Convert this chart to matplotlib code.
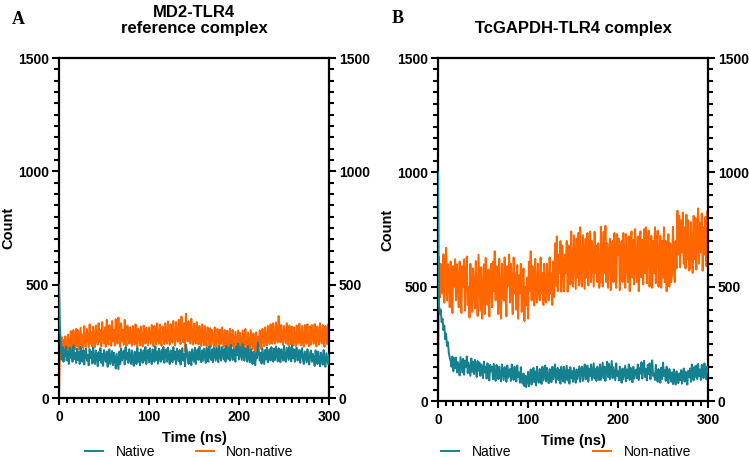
import numpy as np
import matplotlib
matplotlib.use("Agg")
import matplotlib.pyplot as plt
from matplotlib.ticker import MultipleLocator

plt.rcParams['font.family'] = ['Liberation Sans', 'DejaVu Sans']

# counts, one value per ns (0..300)
# panel A: MD2-TLR4 reference complex
a_native = [
    500, 320, 235, 170, 225, 160, 215, 185, 228, 165, 205, 150, 222, 178, 210, 160, 230, 172, 200, 155,
    218, 168, 205, 150, 226, 182, 160, 212, 148, 198, 220, 165, 190, 145, 215, 175, 205, 152, 224, 170,
    150, 210, 185, 140, 202, 168, 220, 155, 195, 142, 212, 175, 160, 205, 138, 198, 215, 150, 186, 208,
    145, 200, 172, 130, 195, 160, 128, 205, 150, 218, 165, 190, 210, 148, 225, 170, 200, 155, 215, 180,
    150, 210, 168, 142, 205, 185, 150, 222, 160, 200, 145, 215, 178, 155, 210, 165, 225, 150, 198, 212,
    158, 220, 175, 150, 215, 190, 160, 228, 168, 205, 152, 218, 182, 160, 212, 170, 225, 155, 200, 215,
    160, 222, 180, 150, 210, 195, 158, 225, 170, 205, 150, 218, 185, 162, 212, 148, 200, 220, 165, 195,
    140, 235, 212, 170, 150, 205, 185, 145, 215, 175, 160, 222, 150, 198, 215, 168, 226, 180, 158, 210,
    165, 218, 190, 155, 222, 175, 160, 230, 185, 168, 215, 158, 225, 195, 165, 220, 178, 158, 228, 190,
    165, 225, 200, 170, 218, 160, 230, 188, 172, 222, 165, 235, 195, 168, 215, 178, 160, 228, 190, 240,
    170, 225, 195, 168, 238, 182, 165, 220, 200, 160, 230, 178, 158, 215, 190, 150, 205, 170, 145, 200,
    175, 245, 210, 165, 200, 152, 218, 185, 150, 212, 170, 222, 158, 195, 215, 165, 225, 180, 160, 218,
    168, 228, 190, 162, 220, 175, 158, 215, 185, 165, 230, 172, 160, 222, 195, 168, 226, 180, 162, 232,
    175, 215, 160, 200, 222, 165, 185, 212, 155, 198, 220, 168, 150, 205, 182, 158, 215, 172, 148, 200,
    210, 160, 195, 175, 142, 210, 185, 150, 205, 165, 140, 200, 180, 148, 212, 160, 138, 198, 175, 150,
    190]
a_nonnative = [
    0, 250, 170, 268, 180, 255, 165, 272, 200, 175, 280, 215, 190, 295, 230, 205, 300, 240, 215, 305,
    228, 300, 215, 262, 310, 232, 280, 220, 318, 250, 228, 305, 265, 222, 325, 240, 290, 228, 315, 255,
    225, 320, 262, 236, 330, 248, 300, 228, 335, 270, 240, 312, 226, 345, 258, 236, 322, 280, 230, 340,
    250, 300, 232, 348, 262, 240, 355, 280, 225, 330, 250, 300, 235, 345, 262, 230, 320, 276, 240, 312,
    256, 230, 318, 270, 236, 325, 252, 226, 306, 282, 232, 316, 255, 228, 320, 290, 240, 310, 262, 234,
    312, 276, 240, 322, 256, 228, 318, 270, 236, 330, 262, 240, 325, 248, 230, 315, 285, 238, 330, 256,
    240, 338, 268, 236, 325, 280, 245, 340, 258, 232, 335, 270, 248, 345, 262, 238, 360, 280, 246, 330,
    205, 372, 300, 250, 338, 262, 240, 350, 280, 236, 328, 258, 240, 335, 270, 236, 318, 262, 230, 325,
    268, 232, 318, 250, 228, 312, 282, 236, 308, 226, 300, 262, 232, 312, 246, 222, 305, 270, 228, 302,
    240, 312, 256, 225, 300, 268, 222, 298, 250, 215, 306, 262, 228, 300, 240, 212, 292, 256, 220, 298,
    215, 288, 240, 210, 298, 260, 222, 305, 248, 212, 290, 236, 208, 300, 255, 215, 285, 238, 205, 290,
    200, 270, 228, 298, 250, 215, 305, 262, 228, 312, 248, 232, 318, 266, 238, 325, 272, 240, 330, 262,
    240, 334, 272, 245, 362, 290, 246, 322, 262, 234, 318, 280, 240, 330, 256, 232, 320, 270, 236, 315,
    232, 312, 256, 228, 320, 270, 240, 328, 262, 232, 318, 250, 226, 322, 278, 240, 326, 256, 228, 316,
    236, 322, 278, 240, 326, 256, 228, 316, 270, 236, 330, 262, 240, 322, 250, 226, 318, 272, 238, 325,
    282]

# panel B: TcGAPDH-TLR4 complex
b_native = [
    1000, 420, 380, 400, 345, 360, 310, 330, 270, 295, 240, 258, 210, 190, 175, 150, 195, 130, 188, 145,
    190, 125, 170, 148, 112, 192, 160, 125, 185, 115, 175, 150, 195, 122, 168, 140, 110, 186, 128, 172,
    118, 180, 145, 105, 175, 132, 168, 110, 160, 140, 100, 172, 125, 150, 98, 165, 120, 90, 158, 130,
    150, 95, 162, 120, 88, 158, 130, 96, 150, 110, 85, 160, 125, 92, 148, 118, 84, 155, 102, 135,
    140, 88, 160, 115, 92, 150, 130, 85, 155, 105, 125, 80, 148, 100, 76, 120, 65, 110, 60, 95,
    128, 64, 110, 138, 72, 120, 145, 82, 130, 68, 150, 98, 80, 140, 110, 75, 150, 90, 120, 155,
    86, 145, 100, 78, 140, 120, 82, 150, 96, 125, 160, 80, 118, 145, 92, 136, 76, 150, 110, 86,
    150, 80, 118, 154, 90, 136, 76, 148, 100, 130, 84, 145, 110, 80, 138, 96, 125, 152, 84, 140,
    150, 88, 130, 160, 95, 118, 155, 84, 140, 110, 160, 92, 128, 165, 98, 140, 88, 150, 118, 92,
    160, 92, 128, 168, 100, 150, 88, 140, 172, 105, 162, 95, 135, 175, 100, 148, 120, 90, 165, 110,
    130, 90, 150, 112, 80, 142, 96, 124, 155, 86, 138, 100, 160, 92, 145, 120, 82, 150, 98, 130,
    138, 100, 160, 92, 145, 120, 170, 98, 150, 176, 105, 140, 90, 158, 118, 165, 95, 145, 178, 110,
    120, 92, 158, 106, 84, 140, 118, 80, 146, 96, 168, 110, 135, 88, 150, 100, 78, 140, 115, 85,
    125, 74, 138, 100, 72, 130, 110, 78, 120, 92, 135, 76, 118, 142, 85, 128, 98, 72, 132, 105,
    142, 84, 160, 118, 90, 150, 106, 155, 96, 162, 110, 138, 92, 158, 120, 100, 165, 125, 95, 150,
    128]
b_nonnative = [
    0, 630, 452, 600, 520, 470, 642, 430, 560, 670, 440, 598, 520, 410, 610, 470, 385, 590, 500, 620,
    440, 598, 520, 410, 610, 470, 385, 590, 500, 620, 395, 560, 632, 420, 500, 365, 600, 455, 390, 580,
    500, 405, 612, 470, 372, 640, 520, 395, 585, 360, 470, 598, 380, 626, 500, 420, 575, 370, 535, 600,
    410, 610, 480, 655, 440, 590, 520, 380, 622, 470, 360, 600, 505, 440, 628, 470, 370, 590, 505, 640,
    430, 600, 505, 380, 628, 470, 560, 400, 595, 360, 550, 470, 600, 390, 520, 580, 350, 500, 420, 540,
    360, 610, 480, 655, 440, 590, 520, 418, 622, 470, 430, 600, 505, 440, 628, 470, 560, 420, 600, 450,
    430, 600, 505, 440, 628, 470, 560, 420, 610, 455, 690, 505, 720, 480, 640, 560, 700, 478, 680, 600,
    480, 640, 560, 700, 478, 680, 600, 510, 742, 560, 500, 725, 600, 490, 710, 540, 735, 505, 760, 600,
    500, 725, 600, 490, 710, 540, 735, 505, 650, 742, 520, 700, 600, 500, 740, 560, 680, 520, 690, 495,
    520, 762, 600, 500, 740, 560, 766, 520, 690, 495, 640, 710, 485, 660, 700, 520, 735, 590, 495, 730,
    640, 710, 485, 660, 700, 520, 735, 590, 495, 730, 600, 520, 720, 480, 690, 742, 540, 705, 510, 752,
    600, 520, 720, 480, 690, 742, 540, 705, 510, 752, 560, 760, 515, 680, 745, 500, 640, 722, 495, 700,
    560, 760, 515, 680, 745, 500, 640, 722, 495, 700, 540, 760, 520, 700, 480, 650, 730, 500, 690, 520,
    550, 762, 600, 520, 700, 580, 832, 640, 810, 585, 790, 650, 825, 600, 760, 580, 815, 620, 790, 570,
    580, 782, 660, 560, 810, 620, 800, 575, 740, 842, 600, 780, 650, 820, 570, 760, 640, 805, 590, 830,
    700]

teal = '#15808f'
orange = '#ff6600'

fig = plt.figure(figsize=(7.49, 4.57), dpi=100)
ax_a = fig.add_axes([0.0788, 0.129, 0.3605, 0.744])
ax_b = fig.add_axes([0.5848, 0.1225, 0.3605, 0.7505])


def style_axes(ax):
    ax.set_xlim(0, 300)
    ax.set_ylim(0, 1500)
    ax.set_xticks([0, 100, 200, 300])
    ax.set_yticks([0, 500, 1000, 1500])
    ax.xaxis.set_minor_locator(MultipleLocator(100 / 12))
    ax.yaxis.set_minor_locator(MultipleLocator(50))
    for s in ax.spines.values():
        s.set_linewidth(1.6)
    ax.tick_params(which='both', direction='out', width=1.5,
                   right=True, labelright=True, labelsize=10)
    ax.tick_params(which='major', length=5)
    ax.tick_params(which='minor', length=3.5)
    ax.tick_params(axis='y', pad=2)
    for lab in ax.get_xticklabels() + ax.get_yticklabels():
        lab.set_fontweight('bold')
    ax.set_xlabel('Time (ns)', fontsize=10.5, fontweight='bold', labelpad=5)
    ax.set_ylabel('Count', fontsize=10.5, fontweight='bold', labelpad=2)


for ax, nat, non in [(ax_a, a_native, a_nonnative), (ax_b, b_native, b_nonnative)]:
    ax.plot(np.arange(len(non)), non, color=orange, lw=1.4, label='Non-native', zorder=2)
    ax.plot(np.arange(len(nat)), nat, color=teal, lw=1.4, label='Native', zorder=3)
    style_axes(ax)

ax_a.set_title('MD2-TLR4\nreference complex', fontsize=12, fontweight='bold',
               pad=18, linespacing=1.1)
ax_b.set_title('TcGAPDH-TLR4 complex', fontsize=12, fontweight='bold', pad=18)

fig.text(0.016, 0.975, 'A', family=['Liberation Serif'], fontsize=13,
         fontweight='bold', va='top')
fig.text(0.523, 0.978, 'B', family=['Liberation Serif'], fontsize=13,
         fontweight='bold', va='top')

for ax, cx, colsp in [(ax_a, 0.253, 2.9), (ax_b, 0.756, 5.9)]:
    h, l = ax.get_legend_handles_labels()
    fig.legend([h[1], h[0]], [l[1], l[0]], loc='center', ncol=2,
               bbox_to_anchor=(cx, 0.012), frameon=False, fontsize=10,
               handlelength=1.3, handletextpad=0.9, columnspacing=colsp)

fig.savefig('out.png', dpi=100)
